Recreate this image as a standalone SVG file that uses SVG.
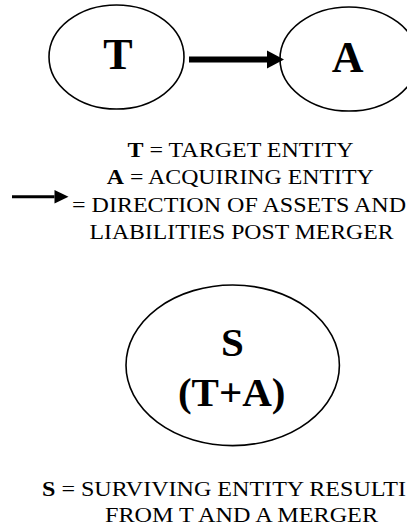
<svg xmlns="http://www.w3.org/2000/svg" width="407" height="527" viewBox="0 0 407 527">
  <style>
    .node { fill: #ffffff; stroke: #000000; stroke-width: 1.6; }
    .big { font-family: "Liberation Serif", "Times New Roman", serif; font-weight: bold; fill: #000000; text-anchor: middle; }
    .lbl { font-family: "Liberation Serif", "Times New Roman", serif; font-size: 22px; fill: #000000; }
    .b { font-weight: bold; }
  </style>
  <defs>
    <marker id="headMain" markerUnits="userSpaceOnUse" markerWidth="17" markerHeight="18" refX="0" refY="9" orient="auto" overflow="visible">
      <path d="M0,0 L17,9 L0,18 Z" fill="#000000"/>
    </marker>
    <marker id="headKey" markerUnits="userSpaceOnUse" markerWidth="14" markerHeight="14" refX="0" refY="6.7" orient="auto" overflow="visible">
      <path d="M0,0 L14,6.7 L0,13.4 Z" fill="#000000"/>
    </marker>
  </defs>
  <rect x="0" y="0" width="407" height="527" fill="#ffffff"/>

  <g id="node-T">
    <ellipse class="node" cx="116.5" cy="57" rx="67.5" ry="52"/>
    <text class="big" x="118" y="69.3" font-size="44">T</text>
  </g>

  <g id="node-A">
    <ellipse class="node" cx="349" cy="59" rx="69" ry="52"/>
    <text class="big" x="347.7" y="71.7" font-size="44">A</text>
  </g>

  <g id="connectors">
    <line x1="189" y1="59.5" x2="267" y2="59.5" stroke="#000000" stroke-width="6" marker-end="url(#headMain)"/>
  </g>

  <g id="legend">
    <text class="lbl" x="127.5" y="157" textLength="226" lengthAdjust="spacingAndGlyphs"><tspan class="b">T</tspan> = TARGET ENTITY</text>
    <text class="lbl" x="106.8" y="184.2" textLength="267" lengthAdjust="spacingAndGlyphs"><tspan class="b">A</tspan> = ACQUIRING ENTITY</text>
    <line x1="12" y1="196.7" x2="54.5" y2="196.7" stroke="#000000" stroke-width="3" marker-end="url(#headKey)"/>
    <text class="lbl" x="72" y="211.5" textLength="334" lengthAdjust="spacingAndGlyphs">= DIRECTION OF ASSETS AND</text>
    <text class="lbl" x="89.5" y="238.8" textLength="304" lengthAdjust="spacingAndGlyphs">LIABILITIES POST MERGER</text>
  </g>

  <g id="node-S">
    <ellipse class="node" cx="232.7" cy="365.3" rx="106.7" ry="80.3"/>
    <text class="big" x="232.5" y="356" font-size="41">S</text>
    <text class="big" x="231.7" y="406" font-size="41">(T+A)</text>
  </g>

  <g id="caption">
    <text class="lbl" x="42" y="496" textLength="364" lengthAdjust="spacingAndGlyphs"><tspan class="b">S</tspan> = SURVIVING ENTITY RESULTI</text>
    <text class="lbl" x="105" y="522.3" textLength="273" lengthAdjust="spacingAndGlyphs">FROM T AND A MERGER</text>
  </g>
</svg>
